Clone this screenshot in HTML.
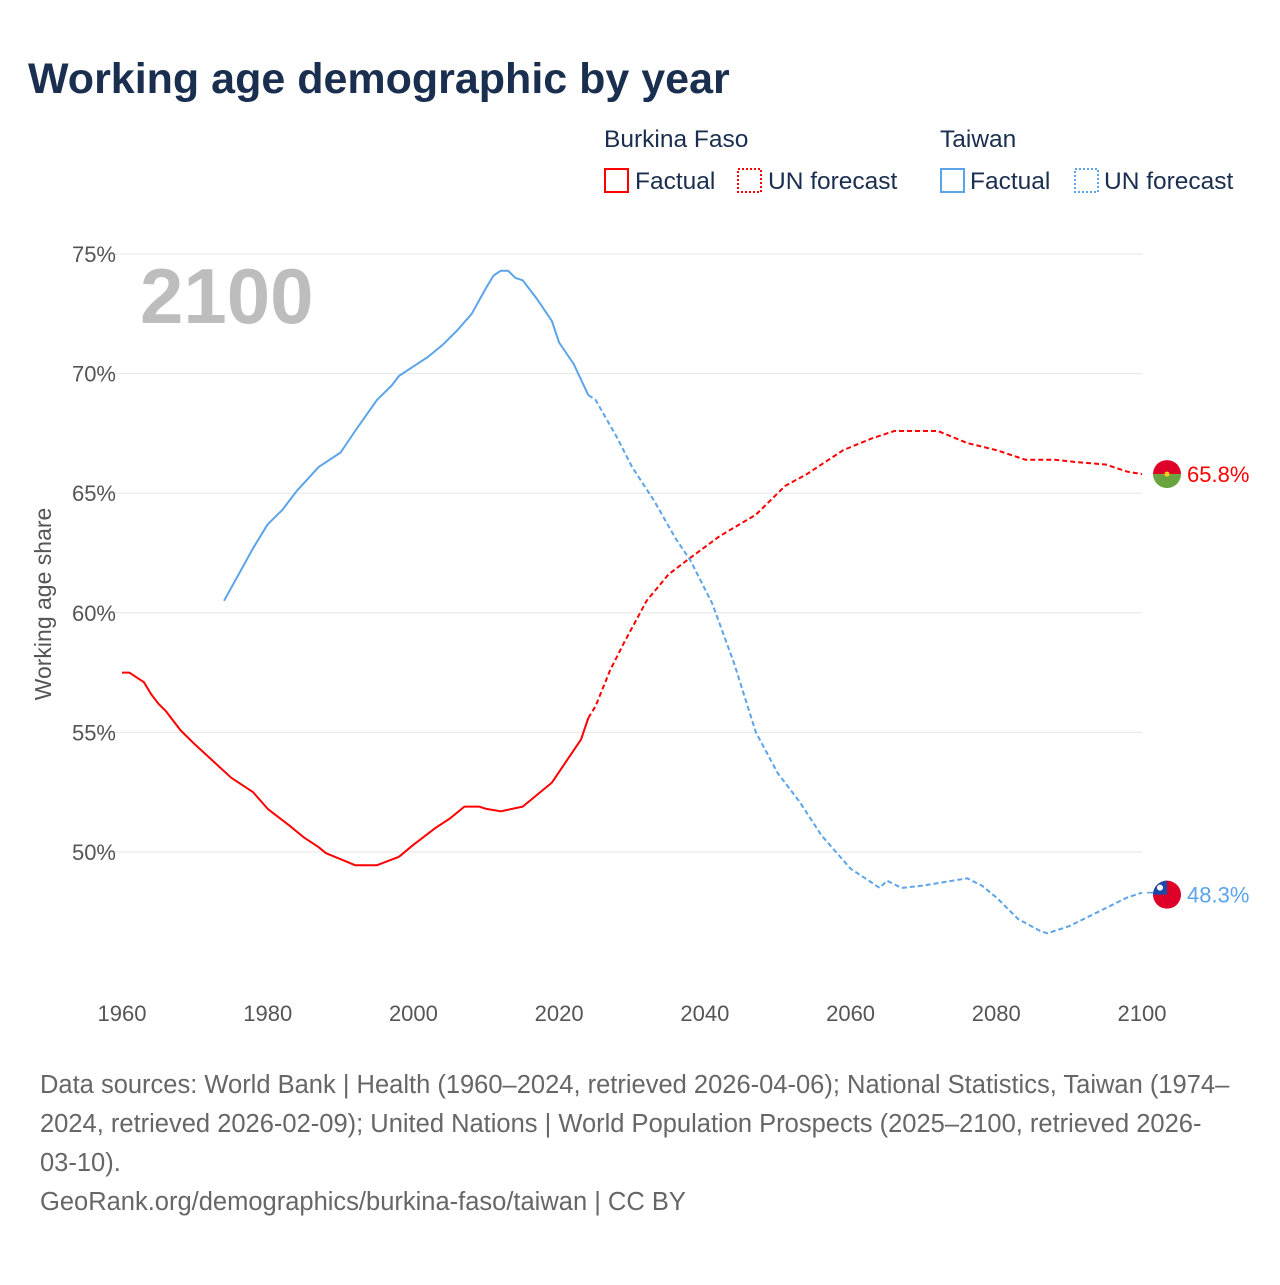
<!DOCTYPE html>
<html><head><meta charset="utf-8">
<style>
html,body{margin:0;padding:0;background:#fff;}
body{width:1280px;height:1280px;position:relative;overflow:hidden;font-family:"Liberation Sans",sans-serif;}
svg text{font-family:"Liberation Sans",sans-serif;}
</style></head>
<body>
<svg id="chart" width="1280" height="1280" viewBox="0 0 1280 1280" xmlns="http://www.w3.org/2000/svg">
<text x="28" y="93" font-size="43" font-weight="bold" fill="#1a2e4f">Working age demographic by year</text>
<g font-size="24.5" fill="#1a2e4f">
<text x="604" y="147">Burkina Faso</text>
<text x="940" y="147">Taiwan</text>
<g><rect x="605" y="169" width="23" height="23" fill="none" stroke="#f00" stroke-width="2"/><text x="635" y="189">Factual</text></g>
<g><rect x="738" y="169" width="23" height="23" fill="none" stroke="#f00" stroke-width="2" stroke-dasharray="2,2"/><text x="768" y="189">UN forecast</text></g>
<g><rect x="941" y="169" width="23" height="23" fill="none" stroke="#5ba4ea" stroke-width="2"/><text x="970" y="189">Factual</text></g>
<g><rect x="1075" y="169" width="23" height="23" fill="none" stroke="#5ba4ea" stroke-width="2" stroke-dasharray="2,2"/><text x="1104" y="189">UN forecast</text></g>
</g>
<g id="grid"></g>
<text x="140" y="323" font-size="78" font-weight="bold" fill="#bdbdbd">2100</text>
<text transform="translate(51,604) rotate(-90)" text-anchor="middle" font-size="23" fill="#555">Working age share</text>
<g id="series"></g>
<g id="flags"></g>
<g font-size="25.5" fill="#666">
<text x="40" y="1093">Data sources: World Bank | Health (1960–2024, retrieved 2026-04-06); National Statistics, Taiwan (1974–</text>
<text x="40" y="1132">2024, retrieved 2026-02-09); United Nations | World Population Prospects (2025–2100, retrieved 2026-</text>
<text x="40" y="1171">03-10).</text>
<text x="40" y="1210">GeoRank.org/demographics/burkina-faso/taiwan | CC BY</text>
</g>
</svg>
<script>
const yTicks=[50,55,60,65,70,75];
const xTicks=[1960,1980,2000,2020,2040,2060,2080,2100];
const bfFactYears=[1960,1961,1963,1964,1965,1966,1968,1970,1975,1977,1978,1980,1983,1985,1987,1988,1990,1992,1995,1998,2000,2003,2005,2007,2009,2010,2012,2015,2017,2019,2021,2023,2024];
const bfFactVals=[57.5,57.5,57.1,56.6,56.2,55.9,55.1,54.5,53.1,52.7,52.5,51.8,51.1,50.6,50.2,49.95,49.7,49.45,49.45,49.8,50.3,51.0,51.4,51.9,51.9,51.8,51.7,51.9,52.4,52.9,53.8,54.7,55.6];
const bfFcYears=[2024,2025,2027,2029,2032,2035,2038,2042,2047,2051,2054,2059,2063,2066,2072,2076,2080,2084,2088,2091,2095,2098,2100];
const bfFcVals=[55.6,56.1,57.6,58.8,60.5,61.6,62.3,63.2,64.1,65.3,65.8,66.8,67.3,67.6,67.6,67.1,66.8,66.4,66.4,66.3,66.2,65.9,65.8];
const twFactYears=[1974,1976,1978,1980,1982,1984,1987,1990,1992,1995,1997,1998,2000,2002,2004,2006,2008,2010,2011,2012,2013,2014,2015,2017,2019,2020,2022,2024];
const twFactVals=[60.5,61.6,62.7,63.7,64.3,65.1,66.1,66.7,67.6,68.9,69.5,69.9,70.3,70.7,71.2,71.8,72.5,73.6,74.1,74.3,74.3,74.0,73.9,73.1,72.2,71.3,70.4,69.1];
const twFcYears=[2024,2025,2028,2030,2033,2036,2038,2041,2044,2047,2050,2053,2056,2060,2063,2064,2065,2067,2070,2074,2076,2078,2080,2083,2086,2087,2090,2094,2098,2100];
const twFcVals=[69.1,68.9,67.3,66.1,64.7,63.1,62.2,60.4,57.9,55.0,53.3,52.1,50.7,49.3,48.7,48.5,48.8,48.5,48.6,48.8,48.9,48.6,48.1,47.2,46.7,46.6,46.9,47.5,48.1,48.3];
const NS="http://www.w3.org/2000/svg";
function xs(y){return 122+(y-1960)*(1020/140);}
function ys(v){return 254+(75-v)*(598/25);}
function mk(tag,attrs,parent){const e=document.createElementNS(NS,tag);for(const k in attrs)e.setAttribute(k,attrs[k]);parent.appendChild(e);return e;}
const grid=document.getElementById('grid');
yTicks.forEach(t=>{
 const l=mk('line',{x1:106,x2:1142,y1:ys(t),y2:ys(t),stroke:'#e6e6e6','stroke-width':1},grid);
 
 
 const tx=mk('text',{x:116,y:ys(t)+8,'text-anchor':'end','font-size':22,fill:'#555'},grid);
 tx.textContent=t+'%';
 
 
});
xTicks.forEach(t=>{
 const tx=mk('text',{x:xs(t),y:1021,'text-anchor':'middle','font-size':22,fill:'#555'},grid);
 tx.textContent=t;
 
 
});
const ser=document.getElementById('series');
function line(yrs,vals,color,dash,name){
 const d=yrs.map((y,i)=>(i?'L':'M')+xs(y).toFixed(1)+','+ys(vals[i]).toFixed(1)).join('');
 const p=mk('path',{d:d,fill:'none',stroke:color,'stroke-width':2,'stroke-linejoin':'round'},ser);
 if(dash)p.setAttribute('stroke-dasharray','5,3');
 
 
}
line(bfFactYears,bfFactVals,'#f00',false,'burkina-factual-line');
line(bfFcYears,bfFcVals,'#f00',true,'burkina-forecast-line');
line(twFactYears,twFactVals,'#5ba4ea',false,'taiwan-factual-line');
line(twFcYears,twFcVals,'#5ba4ea',true,'taiwan-forecast-line');
const fl=document.getElementById('flags');
const bfEnd=bfFcVals[bfFcVals.length-1], twEnd=twFcVals[twFcVals.length-1];
const by=ys(bfEnd), ty=ys(twEnd)+2;
const fx=1167;
let g=mk('g',{},fl);


const cp=mk('clipPath',{id:'c1'},g);
mk('circle',{cx:fx,cy:by,r:14},cp);
mk('rect',{x:fx-14,y:by-14,width:28,height:14,fill:'#de0029','clip-path':'url(#c1)'},g);
mk('rect',{x:fx-14,y:by,width:28,height:14,fill:'#6aa440','clip-path':'url(#c1)'},g);
mk('circle',{cx:fx,cy:by,r:2.5,fill:'#fcd116'},g);
let t1=mk('text',{x:1187,y:by+8,'font-size':22,fill:'#f00'},fl);
t1.textContent=bfEnd.toFixed(1)+'%';


let g2=mk('g',{},fl);


mk('circle',{cx:fx,cy:ty,r:14,fill:'#de0029'},g2);
mk('path',{d:`M${fx-14},${ty} A14,14 0 0 1 ${fx},${ty-14} L${fx},${ty} Z`,fill:'#1b4ba8'},g2);
mk('circle',{cx:fx-7,cy:ty-7,r:3,fill:'#fff'},g2);
mk('line',{x1:fx-14,x2:fx-20,y1:ys(twEnd),y2:ys(twEnd),stroke:'#5ba4ea','stroke-width':1.5},fl);
let t2=mk('text',{x:1187,y:ty+8,'font-size':22,fill:'#5ba4ea'},fl);
t2.textContent=twEnd.toFixed(1)+'%';


</script>
</body></html>
